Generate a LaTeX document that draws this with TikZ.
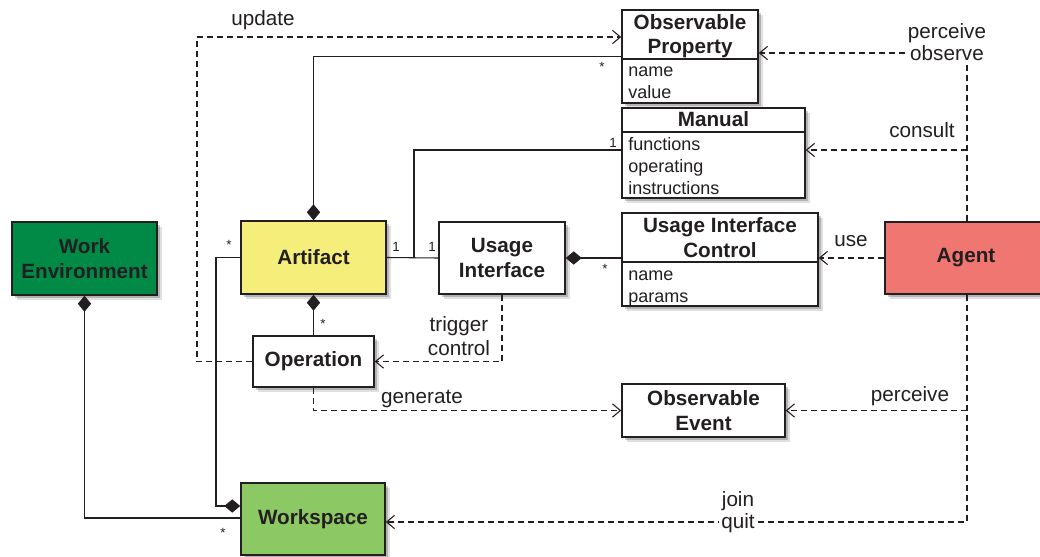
\documentclass[tikz,border=0pt]{standalone}
\usepackage{fontspec}
\setmainfont{Liberation Sans}
\usetikzlibrary{arrows.meta,shadows,calc}
\definecolor{wegreen}{RGB}{0,138,70}
\definecolor{wsgreen}{RGB}{140,200,100}
\definecolor{artyellow}{RGB}{245,238,122}
\definecolor{agentred}{RGB}{240,118,114}
\definecolor{ink}{RGB}{35,31,32}
\begin{document}
\begin{tikzpicture}[x=0.75pt,y=-0.75pt,
  every node/.style={text=ink},
  box/.style 2 args={draw=ink, fill=white, line width=1.1pt, minimum width=#1*0.75pt, minimum height=#2*0.75pt,
    inner sep=0pt, align=center, font=\fontsize{15.5}{18.5}\selectfont\bfseries,
    drop shadow={shadow xshift=3.5pt, shadow yshift=-3.5pt, opacity=0.12, fill=black},
    drop shadow={shadow xshift=2pt, shadow yshift=-2pt, opacity=0.2, fill=black}},
  sepline/.style={draw=ink, line width=1.1pt},
  conn/.style={draw=ink, line width=0.8pt},
  dep/.style={conn, dash pattern=on 4.5pt off 3pt, -{Straight Barb[length=6pt,width=10pt]}},
  comp/.style={conn, {Diamond[length=12pt,width=10pt]}-},
  ttl/.style={font=\fontsize{15.5}{18}\selectfont\bfseries, anchor=base, inner sep=0pt},
  attr/.style={font=\fontsize{13.5}{16}\selectfont, anchor=base west, inner sep=0pt},
  lbl/.style={font=\fontsize{15.5}{16}\selectfont, align=center, inner sep=2pt},
  mult/.style={font=\fontsize{10}{10}\selectfont, inner sep=0pt}]
\useasboundingbox (0,0) rectangle (1040,557);

% plain boxes
\node[box={145}{73}, fill=wegreen] (we) at (84.5,258.5) {Work\\Environment};
\node[box={145}{73}, fill=artyellow] (art) at (313.5,257.5) {Artifact};
\node[box={126}{72}] (ui) at (502,258) {Usage\\Interface};
\node[box={121}{51}] (op) at (313.5,361.5) {Operation};
\node[box={144}{72}, fill=wsgreen] (ws) at (313,519) {Workspace};
\node[box={162}{72}, fill=agentred] (agent) at (966,258) {Agent};
\node[box={163}{53}] (oe) at (703.5,410.5) {Observable\\Event};

% class boxes
\node[box={136}{93}] (obp) at (690,56.5) {};
\draw[sepline] (622,59) -- (758,59);
\node[ttl] (obpt1) at (690,29) {Observable};
\node[ttl] (obpt2) at (690,53) {Property};
\node[attr] (obpa1) at (628,76) {name};
\node[attr] (obpa2) at (628,98) {value};

\node[box={183}{90}] (man) at (713.5,153) {};
\draw[sepline] (622,132) -- (805,132);
\node[ttl] (mant) at (713.5,126) {Manual};
\node[attr] (mana1) at (628,150) {functions};
\node[attr] (mana2) at (628,172) {operating};
\node[attr] (mana3) at (628,194) {instructions};

\node[box={196}{93}] (uic) at (720,259.5) {};
\draw[sepline] (622,262) -- (818,262);
\node[ttl] (uict1) at (720,232) {Usage Interface};
\node[ttl] (uict2) at (720,257) {Control};
\node[attr] (uica1) at (628,280) {name};
\node[attr] (uica2) at (628,302) {params};

% helper coordinates
\coordinate (upd) at (197,37);
\coordinate (mj) at (414,150);
\coordinate (aw) at (216,506);
\coordinate (wj) at (216,518);
\coordinate (av) at (967,53);
\coordinate (cons) at (967,150);
\coordinate (jq) at (967,522);

% connectors
\draw[dep] (op.west) -| (upd) -- (obp.west |- upd);
\draw[comp] (art.north) |- (obp.west);
\draw[conn] (man.west |- mj) -- (mj) -- (mj |- art.east);
\draw[conn] (art.east) -- (ui.west);
\draw[comp] (ui.east) -- (uic.west |- ui.east);
\draw[comp] (art.south) -- (op.north);
\draw[dep] (ui.south) |- (op.east);
\draw[dep] (op.south) |- (oe.west);
\draw[comp] (ws.west |- aw) -| (aw |- art.west) -- (art.west);
\draw[comp] (we.south) |- (ws.west |- wj);
\draw[dep] (agent.north -| av) -- (av) -- (obp.east |- av);
\draw[dep] (cons) -- (man.east |- cons);
\draw[dep] (agent.west) -- (uic.east |- agent.west);
\draw[dep] (agent.south -| jq) -- (jq) -- (ws.east |- jq);
\draw[dep] (av |- oe.east) -- (oe.east);

% labels
\node[lbl] (lupd) at (263,20) {update};
\node[lbl, fill=white] (lpo) at (947,42) {perceive\\observe};
\node[lbl] (lcons) at (922,130) {consult};
\node[lbl] (luse) at (851,241) {use};
\node[lbl, font=\fontsize{15.5}{18.5}\selectfont] (ltc) at (459,336) {trigger\\control};
\node[lbl] (lgen) at (422,399) {generate};
\node[lbl] (lper) at (910,396) {perceive};
\node[lbl, fill=white, font=\fontsize{15.5}{17}\selectfont] (ljq) at (738,512) {join\\quit};

% multiplicities
\node[mult] (m1) at (602,67) {*};
\node[mult] (m2) at (613,143) {1};
\node[mult] (m3) at (396,247) {1};
\node[mult] (m4) at (432,247) {1};
\node[mult] (m5) at (605,269) {*};
\node[mult] (m6) at (323,324) {*};
\node[mult] (m7) at (229,245) {*};
\node[mult] (m8) at (223,533) {*};
\end{tikzpicture}
\end{document}
